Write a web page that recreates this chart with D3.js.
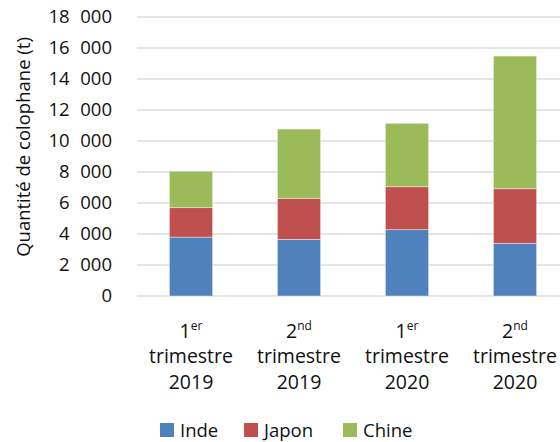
<!DOCTYPE html>
<html>
<head>
<meta charset="utf-8">
<script src="https://cdn.jsdelivr.net/npm/d3@7"></script>
<style>
  body { margin: 0; background: #fff; }
  svg text { font-family: "Open Sans", "DejaVu Sans", sans-serif; fill: #111; }
</style>
</head>
<body>
<svg id="chart" width="560" height="442"></svg>
<script>
var periods = ["T1 2019", "T2 2019", "T1 2020", "T2 2020"];
var periodNum = ["1", "2", "1", "2"];
var periodSup = ["er", "nd", "er", "nd"];
var periodYear = ["2019", "2019", "2020", "2020"];
var series = ["Inde", "Japon", "Chine"];
var colors = ["#4f81bd", "#c0504d", "#9bbb59"];
var inde = [3800, 3650, 4280, 3400];
var japon = [1900, 2650, 2770, 3520];
var chine = [2350, 4470, 4090, 8560];
var yTicks = [0, 2000, 4000, 6000, 8000, 10000, 12000, 14000, 16000, 18000];

var svg = d3.select("#chart");

var rows = periods.map(function(p, i) {
  return { period: p, Inde: inde[i], Japon: japon[i], Chine: chine[i] };
});
var stacked = d3.stack().keys(series)(rows);

var x = d3.scaleBand().domain(periods).range([137, 569]).paddingInner(0.6).paddingOuter(0.3);
var y = d3.scaleLinear().domain([0, 18000]).range([296, 17]);

var fmt = function(v) { return d3.format(",")(v).replace(/,/g, "\u2007"); };

// grid
svg.append("g").selectAll("line").data(yTicks).enter().append("line")
  .attr("x1", 137).attr("x2", 560)
  .attr("y1", function(d) { return y(d); })
  .attr("y2", function(d) { return y(d); })
  .style("stroke", "#dcdcdc")
  .style("stroke-width", 1.5);

// y tick labels
svg.append("g").selectAll("text").data(yTicks).enter().append("text")
  .attr("x", 112)
  .attr("y", function(d) { return y(d); })
  .attr("dy", "0.35em")
  .attr("text-anchor", "end")
  .style("font-size", "18.5px")
  .text(function(d) { return fmt(d); });

// y title
svg.append("text")
  .attr("transform", "translate(30,147) rotate(-90)")
  .attr("text-anchor", "middle")
  .style("font-size", "18.5px")
  .text("Quantité de colophane (t)");

// bars
svg.append("g").selectAll("g").data(stacked).enter().append("g")
  .style("fill", function(d, i) { return colors[i]; })
  .selectAll("rect").data(function(d) { return d; }).enter().append("rect")
  .attr("x", function(d) { return x(d.data.period); })
  .attr("width", x.bandwidth())
  .attr("y", function(d) { return y(d[1]); })
  .attr("height", function(d) { return y(d[0]) - y(d[1]); })
  .style("stroke", "rgba(255,255,255,0.5)")
  .style("stroke-width", 0.8);

// x labels
var xl = svg.append("g").selectAll("text").data(periods).enter().append("text")
  .attr("text-anchor", "middle")
  .style("font-size", "19.5px");
xl.each(function(p, i) {
  var t = d3.select(this);
  var cx = x(p) + x.bandwidth() / 2;
  var l1 = t.append("tspan").attr("x", cx).attr("y", 338);
  l1.append("tspan").text(periodNum[i]);
  l1.append("tspan").attr("dy", -8).style("font-size", "12px").text(periodSup[i]);
  t.append("tspan").attr("x", cx).attr("y", 363).text("trimestre");
  t.append("tspan").attr("x", cx).attr("y", 389).text(periodYear[i]);
});

// legend
var legX = [160, 244, 343];
var leg = svg.append("g").selectAll("g").data(series).enter().append("g")
  .attr("transform", function(d, i) { return "translate(" + legX[i] + ",423)"; });
leg.append("rect").attr("width", 14).attr("height", 14)
  .style("fill", function(d, i) { return colors[i]; });
leg.append("text").attr("x", 20).attr("y", 7).attr("dy", "0.36em")
  .style("font-size", "18.5px")
  .text(function(d) { return d; });
</script>
</body>
</html>
